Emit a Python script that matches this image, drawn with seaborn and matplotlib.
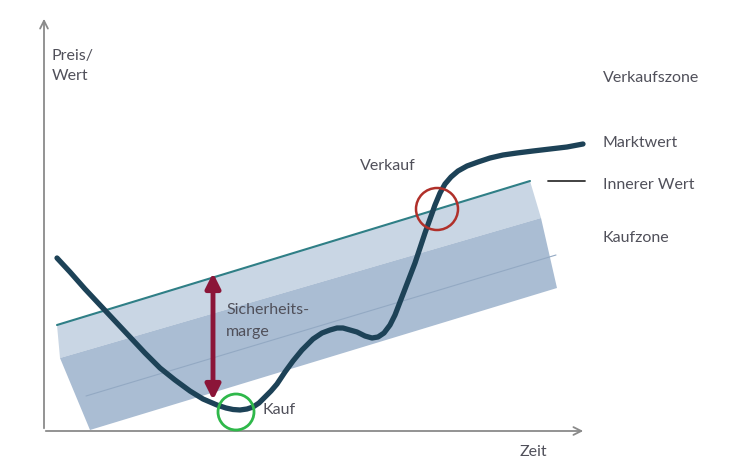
import numpy as np
import pandas as pd
import matplotlib
matplotlib.use("Agg")
import matplotlib.pyplot as plt
from matplotlib.patches import Circle
import seaborn as sns

sns.set_style("white")
plt.rcParams['font.family'] = ['Lato', 'DejaVu Sans']

# Marktwert curve (x = time, y = screen height)
markt_x = [57, 70, 85, 100, 115, 130, 145, 160, 175, 190, 203, 217, 226, 233, 240,
           247, 253, 259, 265, 271, 277, 285, 293, 302, 313, 322, 330, 337, 343,
           350, 357, 365, 372, 378, 384, 390, 395, 400, 405, 410, 415, 420, 425,
           430, 435, 440, 445, 451, 458, 467, 478, 490, 503, 517, 533, 550, 567, 583]
markt_y = [258, 272, 289, 305, 321, 337, 353, 368, 380, 391, 399, 405, 408, 409.5, 410,
           409, 407, 403, 397, 391, 384, 372, 361, 350, 339, 333, 330, 328, 328,
           330, 332, 336, 338, 337, 333, 325, 315, 302, 289, 276, 263, 248, 233,
           219, 205, 193, 184, 177, 171, 166, 162, 158, 155, 153, 151, 149, 147, 144]

# Innerer Wert band corners
band_top_x = [57, 530]
band_top_y = [325, 181]
light_x = [57, 530, 541, 60]
light_y = [325, 181, 218, 358]
dark_x = [60, 541, 557, 90]
dark_y = [358, 218, 288, 430]
inner_line_x = [86, 556]
inner_line_y = [396, 255]

fig = plt.figure(figsize=(7.35, 4.74), dpi=100)
ax = fig.add_axes([0, 0, 1, 1])
ax.set_xlim(0, 735)
ax.set_ylim(474, 0)
ax.axis("off")

# band
ax.fill(light_x, light_y, color="#c9d6e4", lw=0, zorder=1)
ax.fill(dark_x, dark_y, color="#aabdd3", lw=0, zorder=1)
ax.plot(inner_line_x, inner_line_y, color="#93a9c3", lw=0.8, zorder=2)
sns.lineplot(x=band_top_x, y=band_top_y, ax=ax, color="#2f7f86", lw=1.5, zorder=3)

# axes arrows
ax.annotate("", xy=(44, 16), xytext=(44, 431),
            arrowprops=dict(arrowstyle="->", color="#8a8a8a", lw=1.3,
                            mutation_scale=14))
ax.annotate("", xy=(586, 431), xytext=(43, 431),
            arrowprops=dict(arrowstyle="->", color="#8a8a8a", lw=1.3,
                            mutation_scale=14))

# market value curve
df = pd.DataFrame({"x": markt_x, "y": markt_y})
sns.lineplot(data=df, x="x", y="y", sort=False, ax=ax, color="#1d4257",
             lw=3.8, zorder=4, solid_capstyle="round", solid_joinstyle="round")

# safety margin arrow
ax.annotate("", xy=(213, 400), xytext=(213, 273),
            arrowprops=dict(arrowstyle="<|-|>", color="#8b1538", lw=3.5,
                            mutation_scale=22, shrinkA=0, shrinkB=0), zorder=5)

# circles
ax.add_patch(Circle((437, 209), 21, fill=False, ec="#b0302a", lw=1.8, zorder=6))
ax.add_patch(Circle((236, 412), 18, fill=False, ec="#2fb84a", lw=2.0, zorder=6))

# legend line for Innerer Wert
ax.plot([548, 585], [181, 181], color="#333333", lw=1.3)

txt = dict(color="#50505a", fontsize=11.5, va="center", ha="left")
ax.text(52, 66, "Preis/\nWert", linespacing=1.6, **txt)
ax.text(520, 452, "Zeit", **txt)
ax.text(226, 321, "Sicherheits-\nmarge", linespacing=1.7, **txt)
ax.text(263, 410, "Kauf", **txt)
ax.text(360, 166, "Verkauf", **txt)
ax.text(603, 78, "Verkaufszone", **txt)
ax.text(603, 143, "Marktwert", **txt)
ax.text(603, 185, "Innerer Wert", **txt)
ax.text(603, 238, "Kaufzone", **txt)

fig.savefig("out.png", dpi=100)
